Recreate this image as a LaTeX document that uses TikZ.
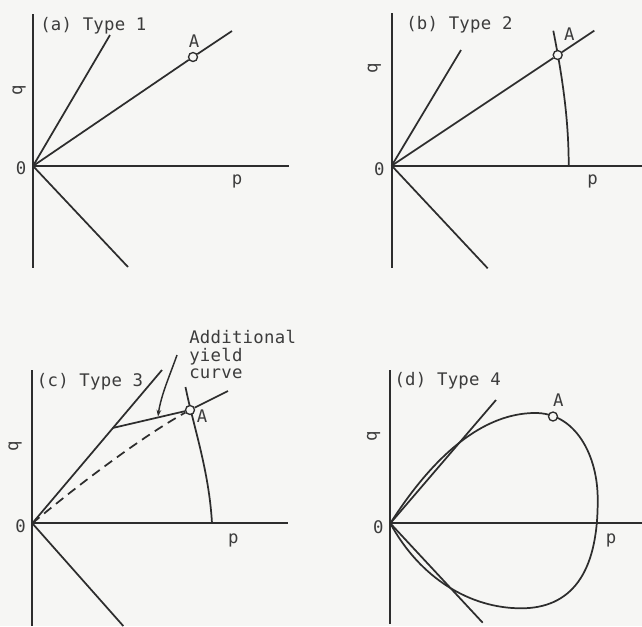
\documentclass[tikz,border=0pt]{standalone}
\usepackage{fontspec}
\newfontfamily\plotfont[LetterSpace=1.5]{DejaVu Sans Mono}
\usetikzlibrary{arrows.meta}
\definecolor{bg}{RGB}{246,246,244}
\definecolor{ink}{RGB}{45,45,45}
\definecolor{txt}{RGB}{60,60,60}
\begin{document}
\begin{tikzpicture}[x=0.75pt,y=-0.75pt,
  ax/.style={ink,line width=1.5pt},
  ln/.style={ink,line width=1.3pt},
  lbl/.style={txt,font=\plotfont\fontsize{13pt}{13.2pt}\selectfont,inner sep=0pt},
  pt/.style={circle,draw=ink,fill=bg,line width=1pt,minimum size=6.75pt,inner sep=0pt}]
\fill[bg] (0,0) rectangle (642,626);
\useasboundingbox (0,0) rectangle (642,626);

% ---------- (a) ----------
\coordinate (Oa) at (33,166);
\coordinate (aTop) at (33,14);
\coordinate (aBot) at (33,268);
\coordinate (aRight) at (289,166);
\coordinate (aL1) at (110,35);
\coordinate (aL2) at (232,31);
\coordinate (aL3) at (128,267);
\node[pt] (Aa) at (193,57) {};
\draw[ax] (aTop) -- (aBot);
\draw[ax] (Oa) -- (aRight);
\draw[ln] (Oa) -- (aL1);
\draw[ln] (Oa) -- (Aa);
\draw[ln] (Aa) -- (aL2);
\draw[ln] (Oa) -- (aL3);
\node[lbl,anchor=west] (ta) at (40,26) {(a) Type 1};
\node[lbl] (la) at (194,41) {A};
\node[lbl] (pa) at (237,181) {p};
\node[lbl] (za) at (21,168) {0};
\node[lbl,rotate=90] (qa) at (19,90) {q};

% ---------- (b) ----------
\coordinate (Ob) at (391.7,165.7);
\coordinate (bTop) at (391.7,13);
\coordinate (bBot) at (391.7,268);
\coordinate (bRight) at (642,165.7);
\coordinate (bL1) at (461,50);
\coordinate (bL2) at (594.3,30.6);
\coordinate (bL3) at (487.7,268.3);
\coordinate (bArcT) at (553.3,30.7);
\coordinate (bArcB) at (568.7,165.7);
\draw[ax] (bTop) -- (bBot);
\draw[ax] (Ob) -- (bRight);
\draw[ln] (bArcT) .. controls (561,70) and (568.7,115) .. (bArcB);
\node[pt] (Ab) at (557.7,55) {};
\draw[ln] (Ob) -- (bL1);
\draw[ln] (Ob) -- (Ab);
\draw[ln] (Ab) -- (bL2);
\draw[ln] (Ob) -- (bL3);
\node[lbl,anchor=west] (tb) at (406,25) {(b) Type 2};
\node[lbl] (lb) at (569.3,34) {A};
\node[lbl] (pb) at (592.7,181.7) {p};
\node[lbl] (zb) at (379.3,169) {0};
\node[lbl,rotate=90] (qb) at (374.3,68.3) {q};

% ---------- (c) ----------
\coordinate (Oc) at (32.3,523.3);
\coordinate (cTop) at (32.3,370);
\coordinate (cBot) at (32.3,626);
\coordinate (cRight) at (288,523.3);
\coordinate (cL1) at (162,370);
\coordinate (cK) at (113,427.9);
\coordinate (cL2) at (228,391);
\coordinate (cL3) at (123.3,626);
\coordinate (cArcT) at (185.5,387);
\coordinate (cArcB) at (212,523.3);
\coordinate (cArS) at (177,355);
\coordinate (cArE) at (158,416.5);
\draw[ax] (cTop) -- (cBot);
\draw[ax] (Oc) -- (cRight);
\draw[ln] (cArcT) .. controls (193,425) and (209,470) .. (cArcB);
\node[pt] (Ac) at (190,410) {};
\draw[ln] (Oc) -- (cL1);
\draw[ln] (cK) -- (Ac);
\draw[ln] (Ac) -- (cL2);
\draw[ln,dashed,dash pattern=on 7pt off 4.5pt] (Oc) .. controls (90,475) and (150,432) .. (Ac);
\draw[ink,line width=1.1pt,-{Stealth[length=5pt,width=3.5pt]}] (cArS) .. controls (170,375) and (161,395) .. (cArE);
\draw[ln] (Oc) -- (cL3);
\node[lbl,anchor=west] (tc) at (36.7,381.7) {(c) Type 3};
\node[lbl,anchor=north west,align=left] (addl) at (189,330) {Additional\\yield\\curve};
\node[lbl] (lc) at (202,416) {A};
\node[lbl] (pc) at (233.3,540) {p};
\node[lbl] (zc) at (20.7,526.5) {0};
\node[lbl,rotate=90] (qc) at (15,446.7) {q};

% ---------- (d) ----------
\coordinate (Od) at (390.3,523.3);
\coordinate (dTop) at (390.3,370);
\coordinate (dBot) at (390.3,624);
\coordinate (dRight) at (642,523.3);
\coordinate (dL1) at (496,400);
\coordinate (dL3) at (482.7,622.7);
\coordinate (dPk) at (534,413);
\coordinate (dRt) at (597.7,500);
\coordinate (dBm) at (521,608.3);
\draw[ax] (dTop) -- (dBot);
\draw[ax] (Od) -- (dRight);
\draw[ln] (Od) -- (dL1);
\draw[ln] (Od) -- (dL3);
\draw[ln] (Od) .. controls (413,488) and (465,414) .. (dPk)
  .. controls (575,412) and (598,455) .. (dRt)
  .. controls (598,575) and (570,608.3) .. (dBm)
  .. controls (470,608.3) and (420,578) .. (Od);
\node[pt] (Ad) at (553,416.5) {};
\node[lbl,anchor=west] (td) at (394.3,381) {(d) Type 4};
\node[lbl] (ld) at (558.3,400) {A};
\node[lbl] (pd) at (611,540) {p};
\node[lbl] (zd) at (378.3,526.7) {0};
\node[lbl,rotate=90] (qd) at (373.7,436.7) {q};
\end{tikzpicture}
\end{document}
